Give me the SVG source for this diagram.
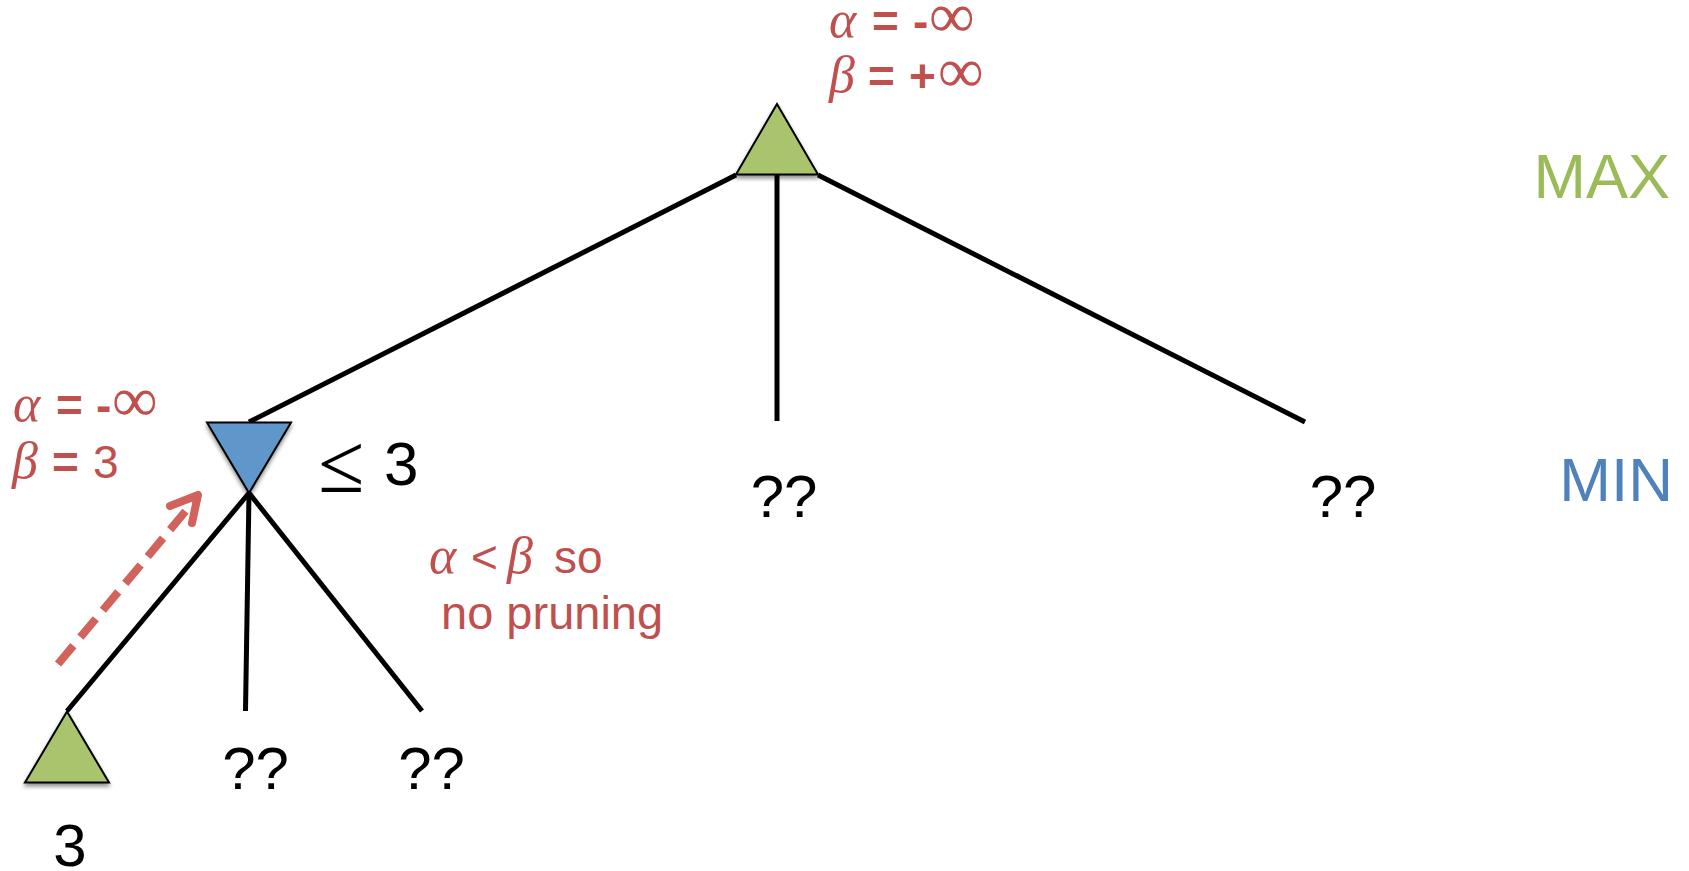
<svg xmlns="http://www.w3.org/2000/svg" width="1689" height="871" viewBox="0 0 1689 871">
<defs>
<filter id="sh" x="-20%" y="-20%" width="140%" height="160%">
<feGaussianBlur in="SourceAlpha" stdDeviation="2"/>
<feOffset dx="0" dy="3" result="b"/>
<feComponentTransfer><feFuncA type="linear" slope="0.45"/></feComponentTransfer>
<feMerge><feMergeNode/><feMergeNode in="SourceGraphic"/></feMerge>
</filter>
</defs>
<style>
.edge{stroke:#000;stroke-width:5;fill:none}
.max{fill:#A9C46C;stroke:#000;stroke-width:2}
.min{fill:#6097CB;stroke:#000;stroke-width:2}
.lbl{font-family:"Liberation Sans",Arial,sans-serif;font-size:60px;fill:#000}
.red{font-family:"Liberation Sans",Arial,sans-serif;font-size:46px;fill:#C0504D}
.gr{font-family:"Liberation Serif","Times New Roman",serif;font-style:italic;font-size:52px}
.b{font-weight:bold}
.inf{font-family:"Liberation Serif","Times New Roman",serif;font-size:64px}
.arrow{stroke:#D1635C;stroke-width:8;fill:none}
</style>
<g id="connectors">
<line class="edge" x1="736" y1="175" x2="249" y2="422"/>
<line class="edge" x1="777" y1="175" x2="777" y2="421"/>
<line class="edge" x1="818" y1="175" x2="1305" y2="422"/>
<line class="edge" x1="249" y1="493" x2="67" y2="711"/>
<line class="edge" x1="249" y1="493" x2="245.5" y2="711"/>
<line class="edge" x1="249" y1="493" x2="422" y2="711"/>
</g>
<g id="root">
<polygon class="max" filter="url(#sh)" points="777,104 818,174.5 736,174.5"/>
<text class="red" x="829" y="37"><tspan class="gr">α</tspan><tspan class="b" x="872">=</tspan><tspan class="b" x="913">-</tspan><tspan class="inf" x="929">∞</tspan></text>
<text class="red" x="829" y="92"><tspan class="gr">β</tspan><tspan class="b" x="868">=</tspan><tspan class="b" x="909">+</tspan><tspan class="inf" x="938">∞</tspan></text>
</g>
<g id="min-node">
<polygon class="min" filter="url(#sh)" points="207,422.5 291,422.5 249,493"/>
<text x="318" y="492" style="font-family:'Liberation Serif','Times New Roman',serif;font-size:84px;fill:#000">≤</text>
<text class="lbl" x="384" y="485" style="font-size:62px">3</text>
<text class="red" x="13" y="421"><tspan class="gr">α</tspan><tspan class="b" x="56">=</tspan><tspan class="b" x="96">-</tspan><tspan class="inf" x="112">∞</tspan></text>
<text class="red" x="12" y="478"><tspan class="gr">β</tspan><tspan class="b" x="52">=</tspan><tspan x="93">3</tspan></text>
</g>
<g id="mid-node"><text class="lbl" x="784" y="517" text-anchor="middle">??</text></g>
<g id="right-node"><text class="lbl" x="1343" y="517" text-anchor="middle">??</text></g>
<g id="leaf-1">
<polygon class="max" filter="url(#sh)" points="67,711.5 109,782.5 25,782.5"/>
<text class="lbl" x="70" y="866" text-anchor="middle">3</text>
</g>
<g id="leaf-2"><text class="lbl" x="255.5" y="789" text-anchor="middle">??</text></g>
<g id="leaf-3"><text class="lbl" x="431.5" y="789" text-anchor="middle">??</text></g>
<g id="note">
<text class="red" x="429" y="573"><tspan class="gr">α</tspan><tspan x="471">&lt;</tspan><tspan class="gr" x="507">β</tspan><tspan x="554">so</tspan></text>
<text class="red" x="441" y="629" style="font-size:47px">no pruning</text>
</g>
<g id="arrow">
<line class="arrow" x1="58" y1="664" x2="194" y2="501" stroke-dasharray="24,11"/>
<polyline class="arrow" points="170,506 198,495 192,523" stroke-linecap="round" stroke-linejoin="round"/>
</g>
<g id="levels">
<text x="1670" y="198" text-anchor="end" style="font-family:'Liberation Sans',Arial,sans-serif;font-size:63px;fill:#9BBB59">MAX</text>
<text x="1673" y="501" text-anchor="end" style="font-family:'Liberation Sans',Arial,sans-serif;font-size:62px;fill:#4F81BD">MIN</text>
</g>
</svg>
